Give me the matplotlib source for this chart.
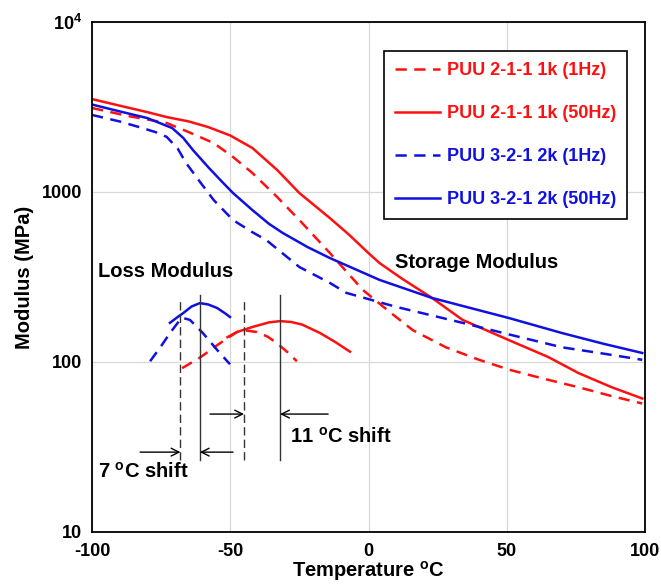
import matplotlib
matplotlib.use("Agg")
import matplotlib.pyplot as plt
from matplotlib.ticker import FixedLocator, FixedFormatter

plt.rcParams['font.family'] = ['Liberation Sans', 'DejaVu Sans']
plt.rcParams['font.weight'] = 'bold'
plt.rcParams['axes.labelweight'] = 'bold'
plt.rcParams['axes.unicode_minus'] = False
plt.rcParams['mathtext.fontset'] = 'custom'
plt.rcParams['mathtext.rm'] = 'Liberation Sans:bold'
plt.rcParams['mathtext.bf'] = 'Liberation Sans:bold'
plt.rcParams['mathtext.default'] = 'rm'

RED = '#ff1010'
BLUE = '#1010e0'

# storage modulus, PUU 2-1-1 1k
t_r1 = [-100, -87, -73, -65, -56, -49, -42, -33, -25, -14, -2, 8, 16, 28, 40, 51, 63, 76, 88, 99]
e_r1 = [3120, 2800, 2546, 2250, 1941, 1607, 1294, 933, 684, 438, 265, 195, 154, 122, 103, 90, 80, 71, 63, 57]
t_r50 = [-100, -90, -80, -73, -65, -58, -50, -42, -33, -25, -14, -7, 0, 4, 12, 23, 34, 51, 65, 76, 88, 99]
e_r50 = [3520, 3220, 2950, 2760, 2600, 2410, 2150, 1815, 1346, 986, 703, 560, 437, 382, 310, 238, 177, 134, 107, 86, 71, 61]
# storage modulus, PUU 3-2-1 2k
t_b1 = [-100, -90, -83, -77, -73, -69, -66, -61, -56, -49, -42, -37, -25, -14, -8, 10, 34, 51, 70, 85, 99]
e_b1 = [2840, 2600, 2410, 2250, 2110, 1800, 1483, 1150, 897, 684, 580, 522, 362, 292, 255, 211, 170, 145, 122, 112, 103]
t_b50 = [-100, -90, -80, -71, -67, -63.5, -58, -53, -49, -42, -36, -31, -22, -14, 4, 23, 51, 70, 85, 99]
e_b50 = [3270, 2980, 2722, 2378, 2080, 1766, 1402, 1150, 986, 783, 650, 574, 474, 409, 304, 238, 181, 148, 128, 113]

# loss modulus peaks
tl_r1 = [-67.4, -61, -53.7, -47.6, -45.4, -40.3, -36.5, -33.1, -29.5, -25.9]
el_r1 = [92, 106, 129, 150, 154, 150, 141, 129, 115, 101]
tl_r50 = [-51, -47.6, -41.8, -36, -32, -28, -24, -17.5, -12, -6.7]
el_r50 = [140, 150, 161, 171, 174, 172, 166, 148, 131, 115]
tl_b1 = [-79, -75, -71.8, -69, -67.4, -64.6, -59.9, -54.8, -50.1]
el_b1 = [101, 124, 148, 170, 182, 177, 148, 118, 97]
tl_b50 = [-71.8, -69, -67, -64, -61, -58, -54.8, -52, -50.1]
el_b50 = [170, 184, 194, 212, 222, 218, 208, 194, 184]

# peak temperatures (dashed = 1Hz, solid = 50Hz)
peak_b = [-68, -61]
peak_r = [-45, -32]

labels = ['PUU 2-1-1 1k (1Hz)', 'PUU 2-1-1 1k (50Hz)',
          'PUU 3-2-1 2k (1Hz)', 'PUU 3-2-1 2k (50Hz)']

fig = plt.figure(figsize=(6.61, 5.85), dpi=100)
ax = fig.add_axes([92/661, 53/585, 553/661, 510/585])

dash = (4.5, 3)
lw = 1.8
l1, = ax.plot(t_r1, e_r1, color=RED, lw=lw, dashes=dash)
l2, = ax.plot(t_r50, e_r50, color=RED, lw=lw)
l3, = ax.plot(t_b1, e_b1, color=BLUE, lw=lw, dashes=dash)
l4, = ax.plot(t_b50, e_b50, color=BLUE, lw=lw)

ax.plot(tl_r1, el_r1, color=RED, lw=lw, dashes=dash)
ax.plot(tl_r50, el_r50, color=RED, lw=lw)
ax.plot(tl_b1, el_b1, color=BLUE, lw=lw, dashes=dash)
ax.plot(tl_b50, el_b50, color=BLUE, lw=lw)

# vertical lines through the loss peaks
for tp in [peak_b[0], peak_r[0]]:
    ax.plot([tp, tp], [26.5, 232], color='#333333', lw=1, dashes=(6, 3))
for tp in [peak_b[1], peak_r[1]]:
    ax.plot([tp, tp], [26.5, 248], color='#333333', lw=1)

arr = dict(arrowstyle='->', color='black', lw=1, shrinkA=0, shrinkB=0,
           mutation_scale=14)
ax.annotate('', xy=(peak_b[0], 29.5), xytext=(-82.6, 29.5), arrowprops=arr)
ax.annotate('', xy=(peak_b[1], 29.5), xytext=(-49, 29.5), arrowprops=arr)
ax.annotate('', xy=(peak_r[0], 49.4), xytext=(-57.3, 49.4), arrowprops=arr)
ax.annotate('', xy=(peak_r[1], 49.4), xytext=(-14.6, 49.4), arrowprops=arr)

ax.text(-98, 22.5, '7 $^{o}$C shift', fontsize=14.5, va='center')
ax.text(-28.5, 36.2, '11 $^{o}$C shift', fontsize=14.5, va='center')
ax.text(-98, 339, 'Loss Modulus', fontsize=14.5, va='center')
ax.text(9.5, 387, 'Storage Modulus', fontsize=14.5, va='center')

ax.set_yscale('log')
ax.set_xlim(-100, 100)
ax.set_ylim(10, 10000)
ax.set_xticks([-100, -50, 0, 50, 100])
ax.yaxis.set_major_locator(FixedLocator([10, 100, 1000, 10000]))
ax.yaxis.set_major_formatter(FixedFormatter(['10', '100', '1000', '$10^4$']))
ax.yaxis.set_minor_locator(FixedLocator([]))
ax.tick_params(length=0, labelsize=13)
ax.tick_params(axis='y', pad=7)
ax.tick_params(axis='x', pad=8)
ax.grid(True, color='#d8d8d8', lw=0.9)
for s in ax.spines.values():
    s.set_linewidth(1.3)

ax.set_xlabel('Temperature $^{o}$C', fontsize=14.5, labelpad=-1)
ax.set_ylabel('Modulus (MPa)', fontsize=14.5, labelpad=6)

leg = ax.legend([l1, l2, l3, l4], labels, loc='upper right',
                bbox_to_anchor=(0.967, 0.943), fancybox=False,
                edgecolor='black', framealpha=1, fontsize=13,
                handlelength=2.5, handletextpad=0.35, labelspacing=1.45,
                borderpad=0.6, borderaxespad=0)
leg.get_frame().set_linewidth(1.2)
for txt, c in zip(leg.get_texts(), [RED, RED, BLUE, BLUE]):
    txt.set_color(c)

fig.savefig('out.png', dpi=100)
